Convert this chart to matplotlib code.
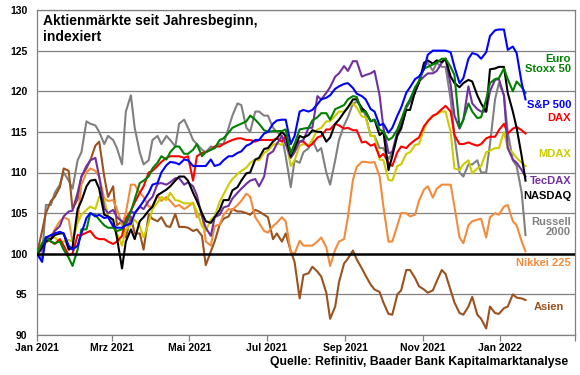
import matplotlib
matplotlib.use("Agg")
import matplotlib.pyplot as plt
import matplotlib.transforms as mtransforms
import pandas as pd

plt.rcParams['font.family'] = ['Liberation Sans', 'DejaVu Sans']

# Sampling dates: Fridays and the following Tuesdays
fridays = pd.date_range('2021-01-01', periods=56, freq='7D')
tuesdays = fridays[:-1] + pd.Timedelta(days=4)

euro_fri = [100, 102, 101.3, 100.5, 98.5, 103, 105, 104.2, 103.2, 102.8, 104, 106.7, 109, 110.5,
            112, 112.5, 113.2, 112.3, 113.5, 112.5, 113, 114.2, 115.5, 116, 117, 116, 115, 115.1,
            115.3, 113.5, 115.4, 116.4, 117.3, 116.5, 118, 119, 119.3, 117.5, 116.5, 115, 114.3, 116.5,
            119, 121.2, 123, 123.5, 124, 122, 116.5, 117.5, 116.8, 121, 121.6, 121.5, 121.2, 119.8]
euro_tue = [101.3, 101.5, 101.5, 99.5, 100.5, 103, 104.8, 103.5, 103.2, 103, 105.2, 108.7, 109.5, 111.2,
            111.6, 113.2, 112.3, 112.8, 112, 112.8, 114, 114.9, 115.8, 116.3, 116.5, 115.2, 115.1, 115.1,
            112.3, 115.3, 115.5, 116.8, 117.3, 117.8, 118.3, 119.4, 117.5, 116.3, 115.3, 114, 115.3, 118.2,
            120.5, 122.8, 123.3, 124, 123, 115.5, 118.5, 116.7, 119, 121.5, 122.8, 120, 120.5]

sp_fri = [100, 102, 102.5, 102.5, 100.5, 102.5, 105, 104.8, 104.5, 103.2, 103.5, 105, 106.5, 108.5,
          110, 111.3, 111, 111.5, 110.8, 110.8, 110.8, 111.5, 112, 112.6, 113.5, 114, 115, 116.4,
          116.5, 114.5, 117.7, 117.7, 119, 119.5, 120.6, 121, 119.7, 119, 117.5, 116, 115.5, 118,
          120.5, 121.8, 124.5, 125, 125, 123, 121.6, 124.7, 124, 126.8, 127.6, 125.1, 124.7, 119]
sp_tue = [99, 102.3, 102.7, 101, 101, 104.4, 104.6, 104.4, 103.4, 103.2, 103.7, 105.8, 107.5, 108.7,
          110.9, 111.2, 111.6, 110.8, 110.8, 111.6, 111, 112, 112.4, 113.3, 114, 114.8, 116, 116.5,
          113.5, 117.5, 117.5, 118.4, 119.2, 120.3, 120.9, 120.4, 119.4, 117.8, 115.8, 114.9, 117, 119.8,
          121.5, 122.7, 125, 125, 124.8, 121, 124, 124.5, 124.8, 127.5, 127.6, 125.5, 121]

dax_fri = [100, 102, 101.2, 101, 100, 102.3, 102.8, 101.8, 101.5, 101.5, 104.3, 106.3, 108.3, 110.2,
           111.3, 112, 112, 112, 112, 112.5, 113.2, 113.5, 114, 114.2, 114, 114, 114, 114.2,
           114.5, 113.5, 113.8, 113.5, 114.5, 115.3, 115.8, 115.5, 115.2, 113.8, 113.5, 112.3, 110.8, 113.2,
           113.5, 114.3, 116.3, 117.2, 118.2, 114.6, 113.5, 113.5, 113.5, 114.4, 115.2, 114.8, 115.6, 114.8]
dax_tue = [100.8, 101.5, 101.8, 99.8, 102.3, 102.6, 102, 101.8, 101.2, 102.2, 105.3, 107.5, 110, 110.8,
           111.8, 112, 111.8, 109, 112.4, 112.8, 113.2, 113.8, 114.2, 114, 113.8, 114, 114, 113.8,
           112.4, 113.8, 113.2, 114.3, 115.3, 116, 115.4, 115.2, 113.7, 113.3, 111.9, 111.2, 112.5, 113,
           114, 115.7, 117, 117.8, 117.5, 113.5, 113.7, 113.3, 114.2, 114.4, 116, 115.4, 115.2]

mdax_fri = [100, 101.3, 102, 101.5, 101.5, 104.8, 105.8, 107, 104.6, 102.5, 103, 104.2, 102, 105.5,
            107, 107.5, 106.5, 106.2, 105.2, 102.8, 104.6, 107.3, 109.2, 110.2, 111.2, 111.5, 112.7, 113.6,
            114, 111.5, 113.5, 114, 115.5, 116.3, 117.5, 118.1, 118, 116.8, 114.5, 111.5, 109, 111,
            112.5, 113.5, 116.4, 117.2, 117.5, 110.5, 111, 109.9, 110.8, 112.7, 113, 113, 111.8, 110.8]
mdax_tue = [101, 101.9, 101.5, 101.7, 103.8, 105.4, 105.5, 106.7, 103.3, 101, 103.5, 103.4, 103.8, 106.3,
            106.6, 106.6, 106.2, 106.2, 103.4, 104.2, 106.4, 108.5, 109.8, 110.6, 111.6, 112.4, 113.4, 113.4,
            110.8, 113.3, 113.3, 115.3, 116.3, 117, 117.5, 118.5, 116.9, 114.5, 111.6, 109.1, 110.8, 112.3,
            113.4, 115.3, 116.9, 117.5, 115, 110.3, 111.5, 110.5, 112.5, 113, 115, 112.4, 111.2]

tecdax_fri = [100, 102, 102.8, 104.6, 105.3, 109.5, 111.5, 109.5, 105, 104.5, 103.5, 105, 105.5, 107,
              108.7, 108.8, 109.3, 108.8, 107.2, 103.2, 104.5, 105.7, 106.8, 108, 109, 108.3, 112.2, 113.5,
              113.5, 112.5, 114, 115.5, 119, 120.5, 122.2, 122.5, 123.7, 122, 122.5, 115.5, 112.5, 116,
              118.7, 121.2, 122.2, 122.5, 124, 117, 116.5, 118.5, 117.5, 120, 121.5, 113, 111.2, 109.5]
tecdax_tue = [100.5, 101.8, 103.4, 105.2, 107.5, 110.8, 111.8, 105.6, 105.4, 104, 105.2, 105.8, 106.5, 108.6,
              108.5, 109.3, 108.5, 108.3, 104.6, 102.2, 104.8, 105.9, 107.5, 108.6, 109.2, 109.5, 112.6, 114.5,
              111.8, 113.8, 115.5, 119.4, 119.8, 121.8, 123.1, 123.7, 121.8, 122.2, 119.5, 112.4, 115, 118,
              119.8, 121.8, 122.2, 123.5, 120.8, 115.4, 120.6, 117.8, 117.5, 121.4, 119.5, 111.6, 110.3]

nasdaq_fri = [100, 101.5, 102.3, 102.5, 100.8, 106.5, 109, 108, 104.6, 102, 101.5, 101.8, 104.5, 105.8,
              107.5, 108.3, 109.5, 109, 106.5, 104, 104.5, 106.6, 107.8, 109, 110, 111.8, 113, 114.2,
              114.5, 113, 114.3, 115.2, 115, 114.3, 116.5, 118, 119, 117.5, 116.5, 115, 112, 115.5,
              117.7, 121, 123.8, 123.8, 124, 121, 121, 121.2, 118.5, 122.7, 123, 119.8, 115.5, 109]
nasdaq_tue = [100.8, 101.8, 102.5, 100.5, 105.5, 108.3, 109.1, 104.8, 104.2, 98.2, 103, 104, 105.3, 107.2,
              107.9, 109, 109.5, 107.5, 105, 103.8, 105.4, 106.6, 108.2, 109.9, 111.6, 112.9, 113.8, 115,
              112, 114.5, 114.6, 115, 113.8, 116, 117.4, 119, 117.9, 116.3, 114.6, 110.3, 114.6, 117.7,
              120, 123.5, 123.4, 123.6, 121.8, 120.5, 121.4, 119.5, 117.5, 122.8, 123, 117.5, 112]

russell_fri = [100, 106, 107.5, 110, 108, 112.5, 116, 115, 114.5, 113, 117.5, 115.5, 111, 114,
               113.5, 114, 116, 115.5, 113.5, 112.5, 113, 113.5, 117, 118.3, 115, 117.5, 117, 115,
               112, 111.5, 112.5, 114, 113, 108.5, 114, 116.8, 118.7, 117, 114.5, 113, 112.5, 115.3,
               119, 121.3, 123.5, 123.5, 123, 114.5, 109.5, 111, 110, 113.5, 121, 115, 110.8, 102.3]
russell_tue = [99.5, 106, 108.5, 109, 111.5, 116.3, 115.8, 113.5, 114, 111, 119.5, 112.5, 111.5, 114.5,
               114.5, 113.2, 116.5, 114, 112.8, 113.2, 113.5, 115.5, 118.5, 115.5, 117.5, 117, 115.5, 114.5,
               108.2, 111.2, 113, 112.6, 110, 111.5, 115.8, 118.5, 118, 114.5, 113, 111.6, 114.5, 118,
               120, 123, 122.5, 123, 119, 110, 111, 111.5, 110, 119, 119.5, 111.5, 107.5]

nikkei_fri = [100, 102, 103, 104.5, 101.5, 108.5, 110.5, 109.5, 106.5, 105.5, 105, 108.5, 107, 105.8,
              106.5, 106.5, 106, 105.8, 104.5, 101.5, 103.4, 104.8, 105.4, 106.5, 107, 103.8, 102.6, 103.8,
              104, 100, 101, 101, 102, 98.5, 101.5, 104.5, 110.7, 111.3, 111.3, 105.8, 101.5, 105,
              104.6, 106.5, 108.3, 108, 108.5, 105.8, 101.3, 104, 104.3, 104.5, 104.8, 106, 103.5, 100.3]
nikkei_tue = [100.5, 102.1, 104, 104.2, 104, 110, 110.2, 106.8, 106.6, 103.5, 108.5, 107.5, 105.8, 107.2,
              107, 105.8, 105.5, 106.3, 105, 101, 103.6, 105.5, 106, 107.4, 104.5, 102.8, 103.4, 104.5,
              100.2, 101.6, 101, 101.5, 100.8, 100.5, 101.8, 109.1, 111.3, 111.2, 109.5, 101.5, 103.5, 105,
              104.8, 107.9, 106.9, 108.5, 108.5, 102, 103.5, 104.2, 102, 105, 105.8, 104, 101.5]

asien_fri = [100, 105, 107, 110.5, 105.5, 109.5, 111.5, 113.8, 107, 103.5, 102, 102.5, 100.5, 104.3,
             104.5, 103.3, 103.3, 103.2, 103, 98.6, 101.5, 104.3, 105.5, 105.2, 104.8, 105.2, 104.5, 102.5,
             102.5, 99, 97.4, 98.4, 97.2, 92, 96.5, 99.4, 99.3, 97.3, 95.6, 94, 92.5, 95.5,
             98, 96, 95.2, 96.6, 97.5, 94, 92.5, 94.7, 92, 93.5, 92.6, 93.5, 94.6, 94.3]
asien_tue = [102.8, 106.5, 108.2, 110.2, 106.7, 110.5, 113.3, 109.5, 108.3, 104, 104.6, 102.5, 104.8, 104,
             103.4, 104.9, 103.3, 102.8, 102.2, 100.3, 103.6, 104.6, 105.2, 105, 105.4, 104.8, 101.8, 101.5,
             100.3, 94.5, 97.6, 97.8, 95.2, 93.5, 98.8, 100.4, 98.2, 96.2, 95.3, 92.6, 95, 98,
             97, 95.6, 95.5, 98, 95.5, 92.7, 93.5, 92.5, 90.8, 92.7, 93.3, 95, 94.5]

all_dates = fridays.append(tuesdays)


def combine(fri_vals, tue_vals):
    return pd.Series(list(fri_vals) + list(tue_vals), index=all_dates).sort_index()


series = [
    ("Russell 2000", combine(russell_fri, russell_tue), "#808080"),
    ("Asien", combine(asien_fri, asien_tue), "#9A521E"),
    ("Nikkei 225", combine(nikkei_fri, nikkei_tue), "#F28C3C"),
    ("MDAX", combine(mdax_fri, mdax_tue), "#CCCC00"),
    ("DAX", combine(dax_fri, dax_tue), "#FF0000"),
    ("TecDAX", combine(tecdax_fri, tecdax_tue), "#7030A0"),
    ("NASDAQ", combine(nasdaq_fri, nasdaq_tue), "#000000"),
    ("Euro Stoxx 50", combine(euro_fri, euro_tue), "#008000"),
    ("S&P 500", combine(sp_fri, sp_tue), "#0000FF"),
]

yticks = [90, 95, 100, 105, 110, 115, 120, 125, 130]
xtick_dates = pd.to_datetime(['2021-01-01', '2021-03-01', '2021-05-01', '2021-07-01',
                              '2021-09-01', '2021-11-01', '2022-01-01', '2022-03-01'])
xtick_labels = ['Jan 2021', 'Mrz 2021', 'Mai 2021', 'Jul 2021', 'Sep 2021', 'Nov 2021', 'Jan 2022', '']

fig = plt.figure(figsize=(5.8, 3.75), dpi=100)
ax = fig.add_axes([37/580, 1 - 335/375, 538/580, 325/375])

for y in yticks:
    if y == 100:
        continue
    ax.axhline(y, color='#808080', lw=0.9, zorder=1)

for name, s, col in series:
    ax.plot(s.index, s.values, color=col, lw=1.5, zorder=3)

ax.axhline(100, color='black', lw=1.8, zorder=4)

ax.set_ylim(90, 130)
ax.set_xlim(pd.Timestamp('2021-01-01'), pd.Timestamp('2022-03-01'))
ax.set_yticks(yticks)
ax.set_yticklabels([str(v) for v in yticks], fontsize=7.5, fontweight='bold')
ax.set_xticks(xtick_dates)
ax.set_xticklabels(xtick_labels, fontsize=7.5, fontweight='bold')
ax.tick_params(axis='y', length=0, pad=7)
ax.tick_params(axis='x', length=4, width=0.9, color='#808080', pad=2)
for sp in ax.spines.values():
    sp.set_color('#808080')
    sp.set_linewidth(0.9)

ax.text(43/580, 1 - 14/375, "Aktienmärkte seit Jahresbeginn,\nindexiert", transform=fig.transFigure,
        fontsize=10, fontweight='bold', va='top', ha='left', linespacing=1.15)

trans = mtransforms.blended_transform_factory(ax.transAxes, ax.transData)
xr = (571 - 37) / 538
labels = [
    ("Euro\nStoxx 50", 123.35, "#008000", 'right', xr),
    ("S&P 500", 118.35, "#0000FF", 'right', xr),
    ("DAX", 116.7, "#FF0000", 'right', xr),
    ("MDAX", 112.3, "#CCCC00", 'right', xr),
    ("TecDAX", 109.0, "#7030A0", 'right', xr),
    ("NASDAQ", 107.1, "#000000", 'right', xr),
    ("Russell\n2000", 103.3, "#808080", 'right', xr),
    ("Nikkei 225", 98.85, "#F28C3C", 'right', xr),
    ("Asien", 93.5, "#9A521E", 'left', (534 - 37) / 538),
]
for txt, yv, col, ha, xx in labels:
    ax.text(xx, yv, txt, transform=trans, color=col, fontsize=8, fontweight='bold',
            ha=ha, va='center', linespacing=1.05, zorder=5)

fig.text(568/580, 1 - 362/375, "Quelle: Refinitiv, Baader Bank Kapitalmarktanalyse",
         fontsize=8.8, fontweight='bold', ha='right', va='center')

fig.savefig('out.png', dpi=100)
